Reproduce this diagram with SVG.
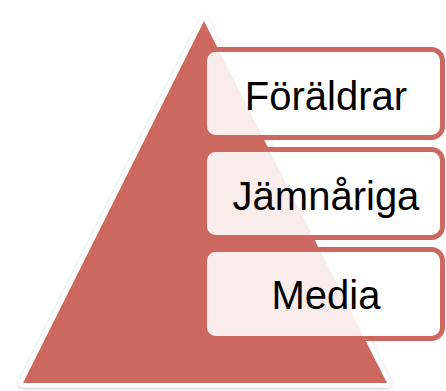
<svg xmlns="http://www.w3.org/2000/svg" width="446" height="391" viewBox="0 0 446 391">
<defs>
<filter id="sh" x="-10%" y="-10%" width="120%" height="120%">
<feDropShadow dx="0" dy="1" stdDeviation="1.5" flood-color="#000" flood-opacity="0.25"/>
</filter>
</defs>
<style>
.box{fill:#ffffff;fill-opacity:0.88;stroke:#CD6861;stroke-width:5}
.lbl{font-family:"Liberation Sans",Arial,sans-serif;font-size:40px;fill:#000;text-anchor:middle}
</style>
<rect width="446" height="391" fill="#fff"/>
<g id="pyramid">
<polygon points="204,21 387,383 23,383" fill="#CD6861" stroke="#fff" stroke-width="9" stroke-linejoin="round" filter="url(#sh)"/>
<polygon points="204,21 387,383 23,383" fill="#CD6861"/>
</g>
<g id="node-foraldrar">
<rect class="box" x="204.5" y="49.5" width="238" height="88" rx="11"/>
<text class="lbl" x="326" y="110">Föräldrar</text>
</g>
<g id="node-jamnariga">
<rect class="box" x="204.5" y="149.5" width="238" height="88" rx="11"/>
<text class="lbl" x="326" y="210">Jämnåriga</text>
</g>
<g id="node-media">
<rect class="box" x="204.5" y="249.5" width="238" height="89" rx="11"/>
<text class="lbl" x="326" y="309">Media</text>
</g>
<g id="connectors"/>
</svg>
